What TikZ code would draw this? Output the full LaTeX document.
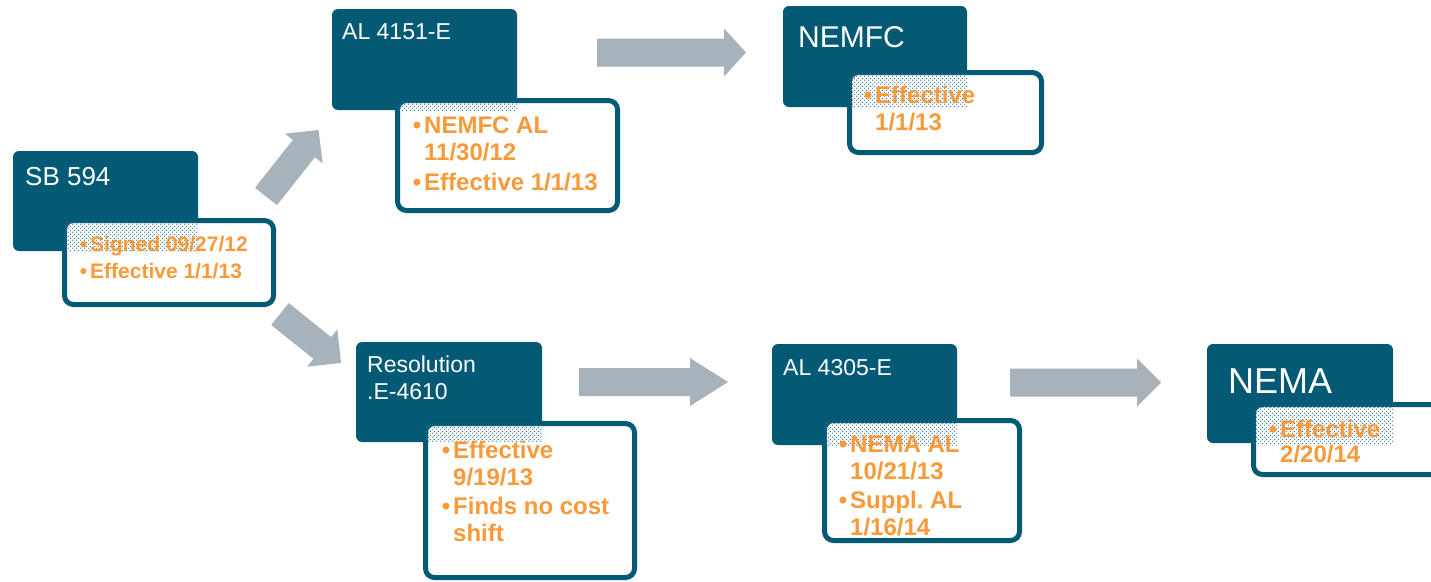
\documentclass[tikz,border=0pt]{standalone}
\usepackage{fontspec}
\setmainfont{Liberation Sans}
\usetikzlibrary{calc,patterns.meta}
\definecolor{myteal}{RGB}{4,90,117}
\definecolor{myorange}{RGB}{248,154,58}
\definecolor{arrowgray}{RGB}{168,178,187}
\tikzdeclarepattern{
  name=tealdots,
  type=uncolored,
  bounding box={(0pt,0pt) and (4pt,4pt)},
  tile size={(4pt,4pt)},
  code={\fill (1pt,1pt) circle (0.85pt); \fill (3pt,3pt) circle (0.85pt);}
}
\tikzset{
  darkbox/.style={shape=rectangle, fill=myteal, rounded corners=6pt, inner sep=0pt},
  whitebox/.style={shape=rectangle, fill=white, draw=myteal, line width=5pt, rounded corners=9pt, inner sep=0pt},
  dotfill/.style={pattern=tealdots, pattern color=myteal!80, rounded corners=7pt},
  titletext/.style={text=white, anchor=base west, inner sep=0pt},
  itemtext/.style={text=myorange, anchor=base west, inner sep=0pt, font=\bfseries},
  blockfill/.style={fill=arrowgray},
}
\newcommand\overlapdots[2]{%
  \begin{scope}
    \clip (#1.south west) rectangle (#1.north east);
    \fill[dotfill] ($(#2.south west)+(2.5,-2.5)$) rectangle ($(#2.north east)+(-2.5,2.5)$);
  \end{scope}}
\newcommand\blockarrow[3]{%
  \path ($(#2)!#3pt!(#1)$) coordinate (bah);
  \fill[blockfill] ($(#1)!14pt!90:(#2)$) -- ($(bah)!14pt!90:(#2)$) -- ($(bah)!24pt!90:(#2)$)
    -- (#2) -- ($(bah)!24pt!-90:(#2)$) -- ($(bah)!14pt!-90:(#2)$) -- ($(#1)!14pt!-90:(#2)$) -- cycle;}
\newcommand\bul{\leavevmode\llap{\textbullet\hspace{3pt}}}
\begin{document}
\frenchspacing
\begin{tikzpicture}[x=1pt,y=-1pt]
\useasboundingbox (0,0) rectangle (1431,581);
\fill[white] (0,0) rectangle (1431,581);
\clip (0,0) rectangle (1431,581);

% ---- arrows
\coordinate (a1t) at (266,196.5); \coordinate (a1h) at (318.5,130);
\coordinate (a2t) at (280,314);   \coordinate (a2h) at (341,363);
\coordinate (a3t) at (597,52.5);  \coordinate (a3h) at (746,52.5);
\coordinate (a4t) at (579,382);   \coordinate (a4h) at (728,382);
\coordinate (a5t) at (1010,382.5);\coordinate (a5h) at (1161,382.5);
\blockarrow{a1t}{a1h}{23.6}
\blockarrow{a2t}{a2h}{24}
\blockarrow{a3t}{a3h}{22}
\blockarrow{a4t}{a4h}{38}
\blockarrow{a5t}{a5h}{24}

% ---- SB 594
\node[darkbox, minimum width=185pt, minimum height=100pt] (sb) at (105.5,201) {};
\node[whitebox, minimum width=209pt, minimum height=84pt] (sbw) at (169,262.5) {};
\overlapdots{sb}{sbw}
\node[titletext, font=\fontsize{26}{30}\selectfont] (sbt) at (25,185) {SB 594};
\node[itemtext] (sbi) at (90,251) {\parbox[t]{200pt}{\fontsize{21}{27}\selectfont
  \bul Signed 09/27/12\\ \bul Effective 1/1/13}};

% ---- AL 4151-E
\node[darkbox, minimum width=185pt, minimum height=101pt] (alA) at (424.5,59.5) {};
\node[whitebox, minimum width=220pt, minimum height=110pt] (alAw) at (507.5,155.5) {};
\overlapdots{alA}{alAw}
\node[titletext, font=\fontsize{23}{27}\selectfont] (alAt) at (342,39) {AL 4151-E};
\node[itemtext] (alAi) at (424,133) {\parbox[t]{200pt}{\fontsize{24}{27}\selectfont
  \bul NEMFC AL\\ 11/30/12\\[3pt] \bul Effective 1/1/13}};

% ---- NEMFC
\node[darkbox, minimum width=184pt, minimum height=101pt] (nf) at (875,56.5) {};
\node[whitebox, minimum width=192pt, minimum height=80pt] (nfw) at (945.5,112.5) {};
\overlapdots{nf}{nfw}
\node[titletext, font=\fontsize{30}{34}\selectfont] (nft) at (798,47) {NEMFC};
\node[itemtext] (nfi) at (875,103) {\parbox[t]{200pt}{\fontsize{24}{27}\selectfont
  \bul Effective\\ 1/1/13}};

% ---- Resolution E-4610
\node[darkbox, minimum width=186pt, minimum height=100pt] (res) at (449,392) {};
\node[whitebox, minimum width=209pt, minimum height=154pt] (resw) at (530,500.5) {};
\overlapdots{res}{resw}
\node[titletext] (rest) at (367,372) {\parbox[t]{170pt}{\fontsize{23}{27}\selectfont
  Resolution\\ .E-4610}};
\node[itemtext] (resi) at (453,458) {\parbox[t]{200pt}{\fontsize{24}{27}\selectfont
  \bul Effective\\ 9/19/13\\[2pt] \bul Finds no cost\\ shift}};

% ---- AL 4305-E
\node[darkbox, minimum width=185pt, minimum height=101pt] (alB) at (864.5,394.5) {};
\node[whitebox, minimum width=195pt, minimum height=120pt] (alBw) at (922,480.5) {};
\overlapdots{alB}{alBw}
\node[titletext, font=\fontsize{23}{27}\selectfont] (alBt) at (783,375) {AL 4305-E};
\node[itemtext] (alBi) at (850,452) {\parbox[t]{200pt}{\fontsize{24}{27}\selectfont
  \bul NEMA AL\\ 10/21/13\\[2pt] \bul Suppl. AL\\ 1/16/14}};

% ---- NEMA
\node[darkbox, minimum width=186pt, minimum height=99pt] (nema) at (1300,393.5) {};
\node[whitebox, minimum width=206.5pt, minimum height=70pt] (nemaw) at (1356.75,439.5) {};
\overlapdots{nema}{nemaw}
\node[titletext, font=\fontsize{36}{40}\selectfont] (nemat) at (1228,393) {NEMA};
\node[itemtext] (nemai) at (1280,437) {\parbox[t]{200pt}{\fontsize{24}{25}\selectfont
  \bul Effective\\ 2/20/14}};
\end{tikzpicture}
\end{document}
